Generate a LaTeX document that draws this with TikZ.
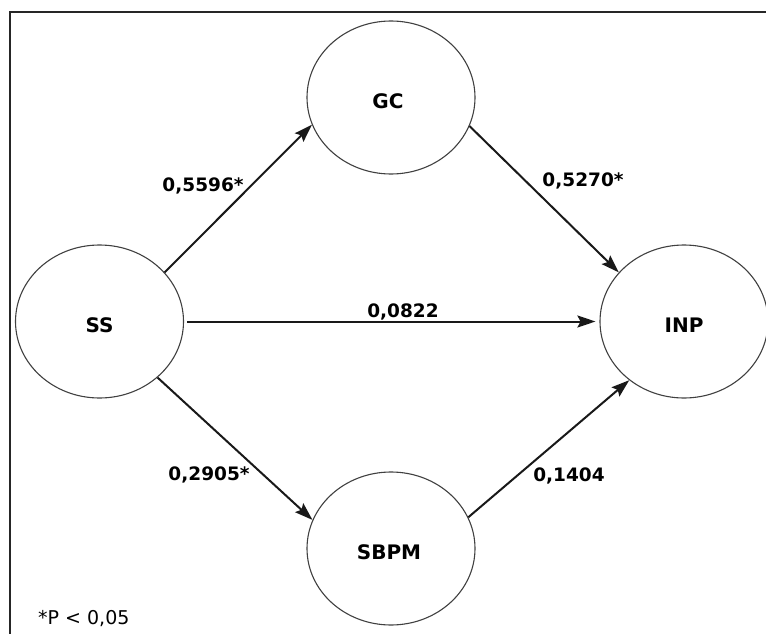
\documentclass[tikz,border=0pt]{standalone}
\usepackage{fontspec}
\setmainfont{DejaVu Sans}
\usetikzlibrary{arrows.meta,shapes.geometric}
\begin{document}
\begin{tikzpicture}[x=1pt,y=-1pt,
  construct/.style={draw=black!75, line width=1.1pt, ellipse,
    minimum width=168pt, minimum height=153pt, inner sep=0pt,
    font=\bfseries\fontsize{20}{20}\selectfont, text height=22pt, text depth=0pt},
  effect/.style={draw=black!90, line width=2pt,
    -{Stealth[length=18pt,width=12pt,inset=3pt]}},
  coef/.style={font=\bfseries\fontsize{18.5}{18.5}\selectfont, inner sep=0pt,
    text height=13.5pt, text depth=0pt}
]
\useasboundingbox (0,0) rectangle (766,634);
% frame (top and left edges)
\draw[line width=2pt, black!85] (10,634) -- (10,12) -- (766,12);

% latent constructs
\node[construct] (ss)   at (99.5,321.5) {SS};
\node[construct] (gc)   at (391,97.5)   {\hspace*{-6pt}GC};
\node[construct] (inp)  at (684,321.5)  {INP};
\node[construct] (sbpm) at (391,548.5)  {\hspace*{-4pt}SBPM};

% structural paths
\draw[effect] (ss.37) -- (gc.199);
\draw[effect] (gc.-20) -- (inp.143);
\draw[effect, shorten <=3pt, shorten >=4pt] (ss.east) -- (inp.west);
\draw[effect] (ss.-44) -- (sbpm.160);
\draw[effect] (sbpm.22) -- (inp.227);

% path coefficients
\node[coef] (c1) at (203,185) {0,5596*};
\node[coef] (c2) at (583,180) {0,5270*};
\node[coef] (c3) at (403,311) {0,0822};
\node[coef] (c4) at (209,474) {0,2905*};
\node[coef] (c5) at (569,475) {0,1404};

% significance note
\node[font=\fontsize{19}{19}\selectfont, anchor=base west, inner sep=0pt]
  (note) at (38,624) {*P < 0,05};
\end{tikzpicture}
\end{document}
